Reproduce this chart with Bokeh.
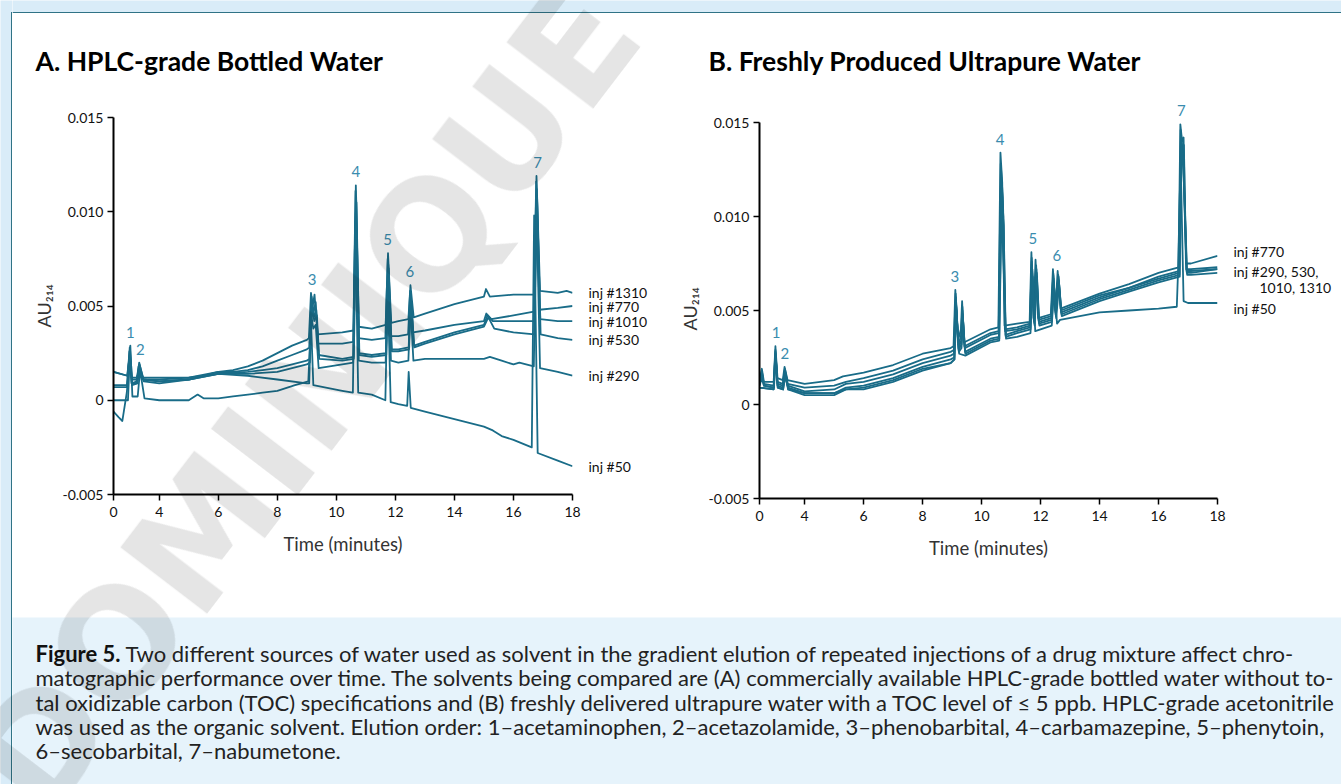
import math
from bokeh.plotting import figure
from bokeh.models import (Range1d, FixedTicker, CustomJSTickFormatter, ColumnDataSource, Div, Title)
from bokeh.layouts import row, column
from bokeh.embed import file_html
from bokeh.resources import INLINE
from bokeh.core.properties import value

# ---------------- data ----------------
x_ticks_a = [2.45, 4, 6, 8, 10, 12, 14, 16, 18]
x_ticks_b = [2.47, 4, 6, 8, 10, 12, 14, 16, 18]
x_tick_labels = ["0", "4", "6", "8", "10", "12", "14", "16", "18"]
y_ticks = [-0.005, 0.0, 0.005, 0.010, 0.015]
y_tick_labels = ["-0.005", "0", "0.005", "0.010", "0.015"]

peak_names = ["1", "2", "3", "4", "5", "6", "7"]
a_peak_t = [3.02, 3.36, 9.18, 10.66, 11.74, 12.49, 16.82]
a_peak_apex = [0.0029, 0.0020, 0.0057, 0.0114, 0.0078, 0.0061, 0.0119]
b_peak_t = [3.03, 3.33, 9.09, 10.63, 11.74, 12.55, 16.77]
b_peak_apex = [0.0031, 0.0020, 0.0061, 0.0134, 0.0081, 0.0072, 0.0149]

a_inj_names = ["inj #1310", "inj #770", "inj #1010", "inj #530", "inj #290", "inj #50"]
b_inj_names = ["inj #770", "inj #290, 530,", "1010, 1310", "inj #50"]

# Panel A traces (time in minutes, AU214)
a_1310 = [(2.45, 0.0007), (2.90, 0.0007), (2.99, 0.0026), (3.06, 0.0009), (3.22, 0.0009), (3.30, 0.0018),
          (3.45, 0.0011), (4.0, 0.0010), (5.0, 0.0011), (6.0, 0.0015), (6.5, 0.0016), (7.0, 0.0018),
          (7.5, 0.0021), (8.0, 0.0025), (8.5, 0.0029), (9.0, 0.0032), (9.07, 0.0033), (9.14, 0.0057),
          (9.20, 0.0050), (9.26, 0.0056), (9.36, 0.0035), (10.2, 0.0036), (10.58, 0.0037), (10.66, 0.0114),
          (10.76, 0.0039), (11.2, 0.0038), (11.67, 0.0040), (11.75, 0.0078), (11.86, 0.0041), (12.1, 0.0042),
          (12.44, 0.0043), (12.51, 0.0061), (12.62, 0.0044), (13.0, 0.0046), (14.0, 0.0051), (15.0, 0.0055),
          (15.07, 0.0059), (15.2, 0.0055), (16.0, 0.0056), (16.70, 0.0056), (16.78, 0.0119), (16.90, 0.0058),
          (17.5, 0.0057), (17.8, 0.0058), (18.0, 0.0057)]
a_770 = [(2.45, 0.0008), (2.92, 0.0008), (3.00, 0.0028), (3.07, 0.0009), (3.24, 0.0010), (3.32, 0.0020),
         (3.46, 0.0011), (4.0, 0.0011), (5.0, 0.0012), (6.0, 0.0015), (6.5, 0.0015), (7.0, 0.0016),
         (7.5, 0.0018), (8.0, 0.0021), (8.5, 0.0024), (9.0, 0.0027), (9.08, 0.0028), (9.16, 0.0055),
         (9.22, 0.0046), (9.30, 0.0052), (9.38, 0.0030), (10.2, 0.0030), (10.57, 0.0031), (10.65, 0.0111),
         (10.75, 0.0033), (11.2, 0.0032), (11.66, 0.0033), (11.74, 0.0075), (11.84, 0.0034), (12.1, 0.0034),
         (12.43, 0.0035), (12.50, 0.0058), (12.60, 0.0036), (13.0, 0.0037), (14.0, 0.0040), (15.0, 0.0042),
         (15.08, 0.0046), (15.25, 0.0043), (16.0, 0.0045), (16.69, 0.0047), (16.77, 0.0116), (16.88, 0.0048),
         (17.5, 0.0049), (18.0, 0.0050)]
a_1010 = [(2.45, 0.0015), (2.93, 0.0013), (3.01, 0.0027), (3.08, 0.0011), (3.25, 0.0011), (3.33, 0.0019),
          (3.47, 0.0011), (4.0, 0.0010), (5.0, 0.0011), (6.0, 0.0014), (7.0, 0.0015), (7.5, 0.0016),
          (8.0, 0.0017), (8.5, 0.0019), (9.0, 0.0021), (9.09, 0.0022), (9.17, 0.0052), (9.24, 0.0044),
          (9.32, 0.0048), (9.40, 0.0024), (10.2, 0.0022), (10.58, 0.0023), (10.67, 0.0108), (10.77, 0.0025),
          (11.2, 0.0024), (11.68, 0.0025), (11.76, 0.0072), (11.87, 0.0027), (12.1, 0.0027), (12.45, 0.0028),
          (12.52, 0.0056), (12.63, 0.0029), (13.0, 0.0031), (14.0, 0.0036), (15.0, 0.0040), (15.12, 0.0045),
          (15.3, 0.0042), (16.0, 0.0042), (16.70, 0.0042), (16.79, 0.0112), (16.91, 0.0043), (17.5, 0.0042),
          (18.0, 0.0042)]
a_530 = [(2.45, -0.0006), (2.62, -0.0009), (2.75, -0.0011), (2.90, 0.0004), (3.01, 0.0024), (3.08, 0.0008),
         (3.26, 0.0009), (3.34, 0.0017), (3.48, 0.0010), (4.0, 0.0009), (5.0, 0.0011), (6.0, 0.0014),
         (7.0, 0.0014), (8.0, 0.0015), (8.5, 0.0017), (9.0, 0.0019), (9.10, 0.0020), (9.18, 0.0050),
         (9.25, 0.0042), (9.34, 0.0045), (9.42, 0.0022), (10.2, 0.0021), (10.59, 0.0022), (10.68, 0.0105),
         (10.78, 0.0024), (11.2, 0.0023), (11.69, 0.0024), (11.77, 0.0070), (11.88, 0.0026), (12.1, 0.0026),
         (12.46, 0.0027), (12.53, 0.0054), (12.64, 0.0028), (13.0, 0.0030), (14.0, 0.0035), (15.0, 0.0039),
         (15.15, 0.0044), (15.35, 0.0038), (16.0, 0.0036), (16.71, 0.0035), (16.80, 0.0108), (16.92, 0.0035),
         (17.5, 0.0033), (18.0, 0.0032)]
a_290 = [(2.45, 0.0000), (2.94, 0.0000), (3.02, 0.0029), (3.09, 0.0002), (3.27, 0.0002), (3.35, 0.0016),
         (3.50, 0.0001), (4.0, 0.0000), (5.0, 0.0000), (5.3, 0.0003), (5.5, 0.0001), (6.0, 0.0001),
         (6.5, 0.0002), (7.0, 0.0003), (7.5, 0.0004), (8.0, 0.0005), (8.6, 0.0008), (9.05, 0.0010),
         (9.15, 0.0045), (9.22, 0.0038), (9.30, 0.0040), (9.40, 0.0017), (10.2, 0.0019), (10.57, 0.0020),
         (10.66, 0.0100), (10.76, 0.0021), (11.2, 0.0020), (11.67, 0.0020), (11.75, 0.0066), (11.85, 0.0021),
         (12.1, 0.0020), (12.44, 0.0021), (12.51, 0.0050), (12.61, 0.0021), (13.0, 0.0022), (14.0, 0.0022),
         (15.0, 0.0022), (15.2, 0.0023), (15.6, 0.0021), (16.0, 0.0019), (16.2, 0.0020), (16.69, 0.0018),
         (16.78, 0.0103), (16.90, 0.0017), (17.5, 0.0015), (18.0, 0.0013)]
a_50 = [(2.45, 0.0015), (2.91, 0.0013), (2.99, 0.0022), (3.06, 0.0012), (3.24, 0.0012), (3.31, 0.0015),
        (3.45, 0.0012), (4.0, 0.0012), (5.0, 0.0012), (6.0, 0.0014), (7.0, 0.0013), (8.0, 0.0011),
        (9.0, 0.0009), (9.08, 0.0009), (9.14, 0.0042), (9.22, 0.0008), (10.2, 0.0005), (10.56, 0.0004),
        (10.64, 0.0095), (10.74, 0.0004), (11.2, 0.0003), (11.66, 0.0000), (11.74, 0.0060), (11.84, -0.0001),
        (12.1, -0.0002), (12.40, -0.0003), (12.45, 0.0015), (12.52, -0.0004), (13.0, -0.0006), (14.0, -0.0010),
        (15.0, -0.0014), (15.3, -0.0016), (15.6, -0.0019), (16.0, -0.0021), (16.62, -0.0025), (16.70, 0.0098),
        (16.82, -0.0028), (17.5, -0.0032), (18.0, -0.0035)]

# Panel B traces
b_770 = [(2.47, 0.0012), (2.55, 0.0019), (2.62, 0.0012), (2.95, 0.0012), (3.01, 0.0031), (3.08, 0.0014),
         (3.26, 0.0013), (3.32, 0.0020), (3.42, 0.0013), (4.0, 0.0011), (5.0, 0.0013), (5.3, 0.0015),
         (6.0, 0.0017), (7.0, 0.0021), (8.0, 0.0027), (8.95, 0.0030), (9.05, 0.0031), (9.11, 0.0061),
         (9.20, 0.0034), (9.30, 0.0040), (9.34, 0.0055), (9.40, 0.0033), (10.3, 0.0040), (10.57, 0.0041),
         (10.64, 0.0134), (10.70, 0.0118), (10.78, 0.0042), (11.2, 0.0043), (11.63, 0.0044), (11.69, 0.0081),
         (11.76, 0.0046), (11.83, 0.0077), (11.92, 0.0046), (12.35, 0.0048), (12.42, 0.0072), (12.50, 0.0050),
         (12.58, 0.0071), (12.68, 0.0051), (14.0, 0.0059), (15.0, 0.0064), (16.0, 0.0070), (16.68, 0.0073),
         (16.74, 0.0149), (16.80, 0.0140), (16.85, 0.0142), (16.93, 0.0075), (17.1, 0.0075), (18.0, 0.0079)]
b_290 = [(2.47, 0.0011), (2.55, 0.0017), (2.62, 0.0011), (2.95, 0.0010), (3.01, 0.0029), (3.08, 0.0012),
         (3.26, 0.0011), (3.33, 0.0019), (3.43, 0.0011), (4.0, 0.0009), (5.0, 0.0010), (5.4, 0.0012),
         (6.0, 0.0014), (7.0, 0.0018), (8.0, 0.0024), (8.95, 0.0028), (9.06, 0.0029), (9.12, 0.0059),
         (9.21, 0.0032), (9.30, 0.0036), (9.35, 0.0052), (9.42, 0.0031), (10.3, 0.0038), (10.58, 0.0039),
         (10.65, 0.0128), (10.72, 0.0110), (10.79, 0.0040), (11.2, 0.0041), (11.64, 0.0043), (11.70, 0.0078),
         (11.77, 0.0045), (11.85, 0.0074), (11.93, 0.0045), (12.36, 0.0047), (12.43, 0.0070), (12.51, 0.0049),
         (12.60, 0.0069), (12.69, 0.0050), (14.0, 0.0058), (15.0, 0.0062), (16.0, 0.0068), (16.69, 0.0071),
         (16.75, 0.0146), (16.81, 0.0136), (16.86, 0.0138), (16.94, 0.0072), (17.1, 0.0072), (18.0, 0.0073)]
b_530 = [(2.47, 0.0010), (2.55, 0.0014), (2.62, 0.0010), (2.95, 0.0009), (3.01, 0.0028), (3.08, 0.0011),
         (3.26, 0.0010), (3.33, 0.0018), (3.43, 0.0010), (4.0, 0.0007), (5.0, 0.0008), (5.4, 0.0011),
         (6.0, 0.0012), (7.0, 0.0016), (8.0, 0.0022), (8.95, 0.0026), (9.06, 0.0027), (9.13, 0.0057),
         (9.22, 0.0030), (9.31, 0.0034), (9.35, 0.0050), (9.43, 0.0030), (10.3, 0.0037), (10.58, 0.0038),
         (10.66, 0.0122), (10.73, 0.0105), (10.80, 0.0039), (11.2, 0.0040), (11.64, 0.0042), (11.70, 0.0076),
         (11.78, 0.0044), (11.86, 0.0072), (11.94, 0.0044), (12.36, 0.0046), (12.43, 0.0069), (12.51, 0.0048),
         (12.61, 0.0068), (12.70, 0.0049), (14.0, 0.0057), (15.0, 0.0062), (16.0, 0.0067), (16.70, 0.0070),
         (16.76, 0.0143), (16.83, 0.0132), (16.95, 0.0071), (17.1, 0.0071), (18.0, 0.0072)]
b_1010 = [(2.47, 0.0009), (2.95, 0.0008), (3.01, 0.0027), (3.08, 0.0010), (3.26, 0.0009), (3.34, 0.0017),
          (3.44, 0.0009), (4.0, 0.0006), (5.0, 0.0006), (5.4, 0.0009), (6.0, 0.0010), (7.0, 0.0014),
          (8.0, 0.0020), (8.95, 0.0024), (9.07, 0.0025), (9.13, 0.0055), (9.22, 0.0029), (9.32, 0.0032),
          (9.36, 0.0048), (9.44, 0.0028), (10.3, 0.0035), (10.59, 0.0036), (10.66, 0.0116), (10.74, 0.0100),
          (10.81, 0.0037), (11.2, 0.0039), (11.65, 0.0041), (11.71, 0.0074), (11.79, 0.0043), (11.87, 0.0070),
          (11.95, 0.0043), (12.37, 0.0045), (12.44, 0.0067), (12.52, 0.0047), (12.62, 0.0066), (12.71, 0.0048),
          (14.0, 0.0056), (15.0, 0.0061), (16.0, 0.0066), (16.71, 0.0069), (16.77, 0.0140), (16.84, 0.0128),
          (16.96, 0.0070), (17.1, 0.0070), (18.0, 0.0072)]
b_1310 = [(2.47, 0.0009), (2.95, 0.0008), (3.02, 0.0026), (3.09, 0.0009), (3.27, 0.0008), (3.34, 0.0016),
          (3.44, 0.0008), (4.0, 0.0005), (5.0, 0.0005), (5.4, 0.0008), (6.0, 0.0008), (7.0, 0.0012),
          (8.0, 0.0018), (8.95, 0.0022), (9.08, 0.0024), (9.14, 0.0052), (9.23, 0.0028), (9.32, 0.0030),
          (9.37, 0.0045), (9.45, 0.0027), (10.3, 0.0034), (10.60, 0.0035), (10.67, 0.0110), (10.75, 0.0095),
          (10.82, 0.0036), (11.2, 0.0038), (11.66, 0.0040), (11.72, 0.0072), (11.80, 0.0042), (11.88, 0.0068),
          (11.96, 0.0042), (12.38, 0.0044), (12.45, 0.0065), (12.53, 0.0046), (12.63, 0.0064), (12.72, 0.0047),
          (14.0, 0.0055), (15.0, 0.0060), (16.0, 0.0065), (16.72, 0.0068), (16.78, 0.0137), (16.85, 0.0125),
          (16.97, 0.0069), (17.1, 0.0069), (18.0, 0.0070)]
b_50 = [(2.47, 0.0010), (2.55, 0.0018), (2.62, 0.0010), (2.96, 0.0009), (3.02, 0.0025), (3.09, 0.0009),
        (3.27, 0.0008), (3.35, 0.0015), (3.45, 0.0008), (4.0, 0.0006), (5.0, 0.0006), (5.4, 0.0008),
        (6.0, 0.0009), (7.0, 0.0013), (8.0, 0.0019), (8.95, 0.0022), (9.08, 0.0024), (9.15, 0.0050),
        (9.24, 0.0027), (9.45, 0.0026), (10.3, 0.0033), (10.60, 0.0034), (10.68, 0.0105), (10.83, 0.0035),
        (11.2, 0.0036), (11.66, 0.0038), (11.73, 0.0068), (11.82, 0.0039), (12.38, 0.0042), (12.46, 0.0062),
        (12.56, 0.0043), (12.66, 0.0045), (14.0, 0.0049), (15.0, 0.0050), (16.0, 0.0051), (16.62, 0.0052),
        (16.66, 0.0070), (16.75, 0.0130), (16.85, 0.0055), (17.0, 0.0054), (18.0, 0.0054)]

a_traces = [a_1310, a_770, a_1010, a_530, a_290, a_50]
b_traces = [b_770, b_290, b_530, b_1010, b_1310, b_50]

title_a = "A. HPLC-grade Bottled Water"
title_b = "B. Freshly Produced Ultrapure Water"
caption_bold = "Figure 5."
caption_lines = [
    "Two different sources of water used as solvent in the gradient elution of repeated injections of a drug mixture affect chro-",
    "matographic performance over time. The solvents being compared are (A) commercially available HPLC-grade bottled water without to-",
    "tal oxidizable carbon (TOC) specifications and (B) freshly delivered ultrapure water with a TOC level of \u2264 5 ppb. HPLC-grade acetonitrile",
    "was used as the organic solvent. Elution order: 1\u2013acetaminophen, 2\u2013acetazolamide, 3\u2013phenobarbital, 4\u2013carbamazepine, 5\u2013phenytoin,",
    "6\u2013secobarbital, 7\u2013nabumetone.",
]

# ---------------- styling / layout constants ----------------
TEAL = "#196c88"
LABEL_TEAL = "#3a8cae"
FRAME_TEAL = "#2f7386"
STRIPE = "#d9ecf8"
CAPTION_BG = "#e6f3fb"
FONT = "Lato"
CAP_FONT = "Lato"

# panel A: page x 12 .. 587, page y 107 .. 617; frame x 113 .. 572, y 107 .. 494 (0.015 at y 117)
A_PAGE_Y0 = 107
A_W, A_H, A_FL, A_FR, A_FB = 575, 617 - A_PAGE_Y0, 101, 15, 123
A_PX_PER_AU = 18850.0
# panel B: page x 648 .. 1232, page y 100 .. 617; frame x 759 .. 1217, y 100 .. 498 (0.015 at y 122)
B_PAGE_Y0 = 100
B_W, B_H, B_FL, B_FR, B_FB = 584, 617 - B_PAGE_Y0, 111, 15, 119
B_PX_PER_AU = 18800.0


def fmt(tick_vals, tick_labels):
    return CustomJSTickFormatter(args=dict(tv=tick_vals, tl=tick_labels), code="""
        for (let i = 0; i < tv.length; i++) {
            if (Math.abs(tv[i] - tick) < 1e-7) { return tl[i]; }
        }
        return '';
    """)


def plain_fig(width, height, xr, yr, bg, mb=0):
    f = figure(width=width, height=height, x_range=xr, y_range=yr, output_backend="svg",
               toolbar_location=None, x_axis_type=None, y_axis_type=None,
               min_border_left=0, min_border_right=0, min_border_top=0, min_border_bottom=mb,
               background_fill_color=bg, border_fill_color=bg, outline_line_color=None)
    f.grid.visible = False
    return f


def make_panel(width, height, fl, fr, fb, xticks, px_per_au, au_offset):
    y_end = y_ticks[0] + (height - fb) / px_per_au
    p = figure(width=width, height=height, x_range=Range1d(xticks[0], xticks[-1]),
               y_range=Range1d(y_ticks[0], y_end),
               output_backend="svg", toolbar_location=None,
               min_border_left=fl, min_border_right=fr, min_border_top=0, min_border_bottom=fb,
               background_fill_color="white", border_fill_color="white", outline_line_color=None)
    p.grid.visible = False
    p.xaxis.ticker = FixedTicker(ticks=xticks)
    p.xaxis.formatter = fmt(xticks, x_tick_labels)
    p.yaxis.ticker = FixedTicker(ticks=y_ticks)
    p.yaxis.formatter = fmt(y_ticks, y_tick_labels)
    p.yaxis.bounds = (y_ticks[0], y_ticks[-1])
    for ax in (p.xaxis[0], p.yaxis[0]):
        ax.axis_line_width = 2
        ax.axis_line_color = "black"
        ax.major_tick_line_width = 1.5
        ax.major_tick_line_color = "black"
        ax.major_tick_in = 0
        ax.major_tick_out = 6
        ax.minor_tick_line_color = None
        ax.major_label_text_font = FONT
        ax.major_label_text_font_size = "14px"
        ax.major_label_text_color = "#111111"
        ax.axis_label_text_font = FONT
        ax.axis_label_text_font_style = "normal"
        ax.axis_label_text_color = "#333333"
    p.xaxis.major_label_standoff = 6
    p.yaxis.major_label_standoff = 4
    p.xaxis.axis_label = "Time (minutes)"
    p.xaxis.axis_label_text_font_size = "18.5px"
    p.xaxis.axis_label_standoff = 13
    # y-axis label as a side title so that it can be centred on the axis bounds
    p.add_layout(Title(text="AU\u2082\u2081\u2084", align="left", offset=au_offset, standoff=10,
                       text_font=FONT, text_font_size="18px", text_font_style="normal",
                       text_color="#333333"), "left")
    return p


def draw_traces(p, traces):
    for tr in traces:
        p.line([q[0] for q in tr], [q[1] for q in tr], line_color=TEAL, line_width=1.8,
               line_join="round")


def draw_peak_labels(p, ts, apex, names):
    src = ColumnDataSource(dict(x=ts, y=apex, t=names))
    p.text(x="x", y="y", text="t", source=src, text_font=value(FONT), text_font_size="15px",
           text_color=LABEL_TEAL, text_align="center", text_baseline="bottom", y_offset=-8)


# ---------------- panel A column ----------------
tA = plain_fig(636, A_PAGE_Y0 - 13, Range1d(12, 648), Range1d(A_PAGE_Y0, 13), "white")
tA.text(x=[35], y=[60], text=[title_a], text_font=value(FONT), text_font_style="bold",
        text_font_size="26.5px", text_color="black", text_align="left", text_baseline="alphabetic")

pA = make_panel(A_W, A_H, A_FL, A_FR, A_FB, x_ticks_a, A_PX_PER_AU, 167)
draw_traces(pA, a_traces)
draw_peak_labels(pA, a_peak_t, a_peak_apex, peak_names)

pA_lab = plain_fig(61, A_H, Range1d(587, 648), pA.y_range, "white", mb=A_FB)
pA_lab.text(x=[588] * len(a_inj_names), y=[tr[-1][1] for tr in a_traces], text=a_inj_names,
            text_font=value(FONT), text_font_size="14px", text_color="#111111",
            text_align="left", text_baseline="middle")

colA = column(tA, row(pA, pA_lab))

# ---------------- panel B column ----------------
tB = plain_fig(693, B_PAGE_Y0 - 13, Range1d(648, 1341), Range1d(B_PAGE_Y0, 13), "white")
tB.text(x=[708], y=[60], text=[title_b], text_font=value(FONT), text_font_style="bold",
        text_font_size="26.5px", text_color="black", text_align="left", text_baseline="alphabetic")

pB = make_panel(B_W, B_H, B_FL, B_FR, B_FB, x_ticks_b, B_PX_PER_AU, 168)
draw_traces(pB, b_traces)
draw_peak_labels(pB, b_peak_t, b_peak_apex, peak_names)

pB_lab = plain_fig(109, B_H, Range1d(1232, 1341), pB.y_range, "white", mb=B_FB)
b_lab_y = [0.00812, 0.00708, 0.00625, 0.00512]
pB_lab.text(x=[1233, 1233, 1259, 1233], y=b_lab_y, text=b_inj_names,
            text_font=value(FONT), text_font_size="14px", text_color="#111111",
            text_align="left", text_baseline="middle")

colB = column(tB, row(pB, pB_lab))

# ---------------- caption (page y 617 .. 784) ----------------
cap = plain_fig(1329, 167, Range1d(12, 1341), Range1d(784, 617), CAPTION_BG)
base_y = [653 + 24.3 * i for i in range(len(caption_lines))]
cap.text(x=[35], y=[base_y[0]], text=[caption_bold], text_font=value(CAP_FONT), text_font_style="bold",
         text_font_size="22px", text_color="#111111", text_baseline="alphabetic")
line_x = [125] + [35] * (len(caption_lines) - 1)
cap.text(x=line_x, y=base_y, text=caption_lines, text_font=value(CAP_FONT), text_font_size="22px",
         text_color="#222222", text_baseline="alphabetic")

# ---------------- frame strips ----------------
top = plain_fig(1329, 13, Range1d(12, 1341), Range1d(13, 0), STRIPE)
top.quad(left=[12], right=[1341], top=[11.5], bottom=[13], fill_color=FRAME_TEAL, line_color=None)
left = plain_fig(12, 784, Range1d(0, 12), Range1d(784, 0), STRIPE)
left.quad(left=[10.5], right=[12], top=[11.5], bottom=[784], fill_color=FRAME_TEAL, line_color=None)

# watermark overlay (HTML text, fixed to the page)
watermark = Div(text="DOMINIQUE", width=1100, height=200, styles={
    "position": "fixed", "left": "-250px", "top": "295px", "width": "1100px", "height": "200px",
    "font-family": "DejaVu Sans", "font-weight": "bold", "font-size": "150px", "line-height": "200px",
    "text-align": "center", "white-space": "nowrap", "color": "rgba(0,0,0,0.10)",
    "transform": "rotate(-52.6deg)", "transform-origin": "50% 50%", "pointer-events": "none",
    "z-index": "10", "overflow": "visible"})

layout = row(left,
             column(top, row(colA, colB), cap),
             watermark)

open("out.html", "w").write(file_html(layout, INLINE))
